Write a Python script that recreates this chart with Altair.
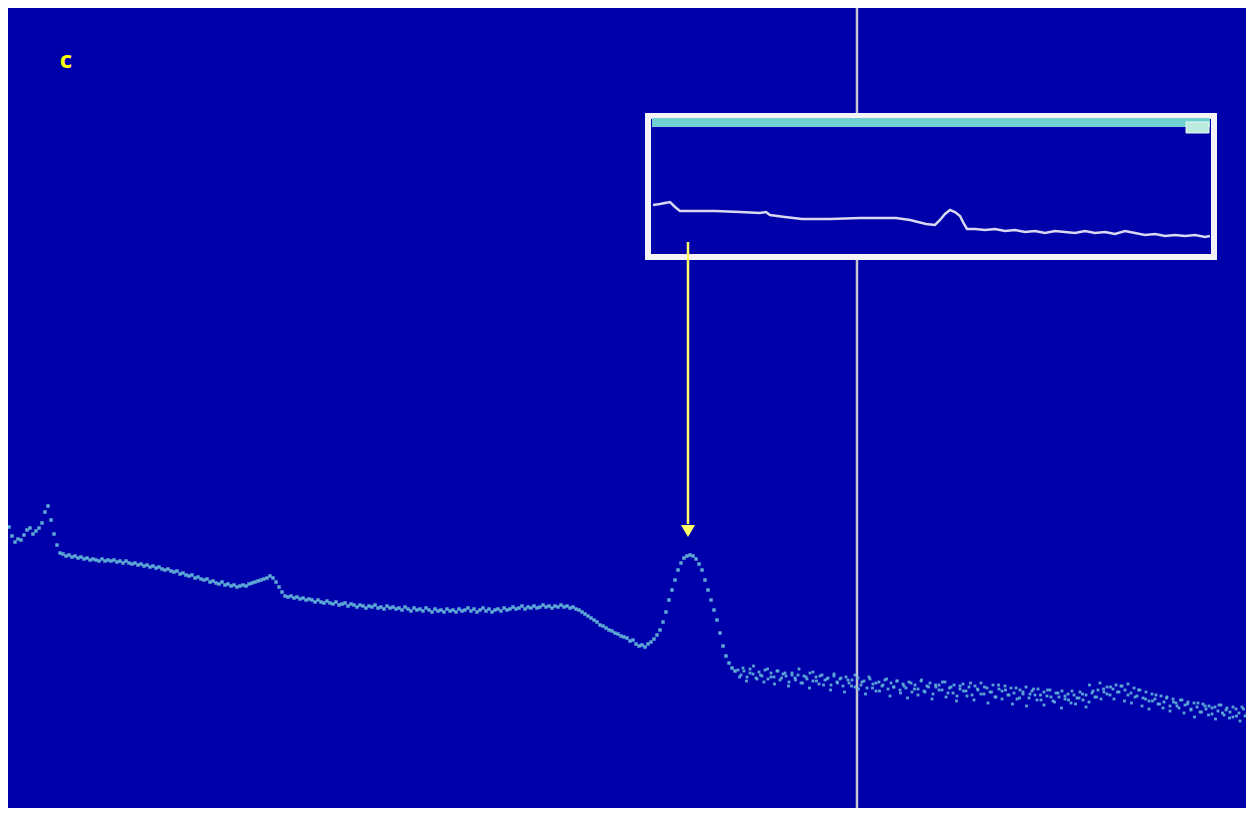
import altair as alt
import pandas as pd

# ---------------- data ----------------
# main spectrum, smooth part: channel grid starts at 0, step 3
smooth_signal = [
    296, 289, 280, 274, 277, 276, 281, 286, 288, 282, 285, 288, 293, 304, 310, 296, 282, 271, 263, 262,
    260, 261, 259, 260, 258, 259, 257, 258, 256, 257, 256, 255, 257, 255, 256, 255, 256, 254, 255, 253,
    255, 253, 252, 253, 251, 252, 250, 251, 249, 250, 248, 249, 247, 246, 247, 245, 244, 245, 242, 243,
    241, 240, 241, 238, 239, 237, 236, 237, 234, 235, 233, 232, 234, 231, 232, 230, 231, 229, 230, 231,
    230, 232, 233, 234, 235, 236, 237, 238, 240, 238, 234, 229, 224, 220, 219, 220, 218, 219, 217, 218,
    216, 217, 216, 214, 216, 214, 213, 215, 213, 212, 214, 211, 212, 213, 210, 212, 211, 209, 211, 210,
    208, 210, 209, 211, 208, 209, 207, 210, 208, 209, 207, 208, 206, 209, 207, 205, 208, 206, 207, 205,
    208, 206, 204, 207, 205, 206, 204, 207, 205, 206, 204, 207, 205, 206, 208, 205, 207, 204, 206, 208,
    205, 207, 204, 206, 207, 205, 208, 206, 207, 209, 207, 208, 210, 207, 209, 208, 210, 208, 209, 211,
    209, 210, 208, 210, 209, 211, 209, 210, 208, 209, 207, 206, 204, 202, 200, 198, 196, 194, 191, 190,
    188, 186, 185, 183, 182, 180, 179, 178, 175, 176, 172, 170, 171, 169, 172, 174, 177, 181, 186, 194,
    204, 216, 226, 236, 246, 253, 258, 260, 261, 260, 257, 252, 246, 236, 226, 216, 206, 196, 183, 170,
    160, 153, 148, 145,
]
# noisy tail, first scatter set: channel 732 onward, step 3
tail_a = [
    146, 141, 145, 139, 147, 142, 138, 144, 140, 146, 137, 143, 139, 145, 136, 142, 140, 134, 143, 138,
    141, 133, 140, 137, 143, 135, 139, 132, 141, 136, 138, 131, 140, 134, 137, 130, 139, 133, 136, 129,
    138, 131, 135, 128, 137, 132, 125, 134, 130, 136, 127, 133, 129, 135, 126, 132, 128, 134, 124, 131,
    127, 135, 125, 130, 133, 122, 129, 131, 126, 134, 123, 129, 131, 120, 127, 132, 125, 129, 121, 130,
    126, 133, 122, 128, 124, 131, 119, 127, 125, 130, 121, 128, 123, 117, 126, 122, 129, 118, 125, 121,
    127, 116, 124, 120, 126, 115, 123, 119, 125, 117, 122, 113, 121, 118, 124, 116, 121, 114, 123, 119,
    126, 117, 124, 129, 121, 127, 131, 124, 130, 126, 132, 123, 128, 120, 126, 118, 124, 115, 122, 117,
    112, 120, 114, 119, 110, 117, 113, 108, 116, 111, 114, 106, 113, 109, 104, 112, 107, 110, 102, 109,
    105, 111, 101, 108, 104, 99, 107, 103, 109, 100, 106, 102, 108,
]
# noisy tail, second scatter set: channel 733.5 onward, step 3.5
tail_b = [
    139, 148, 135, 143, 150, 137, 141, 134, 147, 139, 132, 145, 138, 143, 130, 141, 136, 147, 133, 139,
    128, 144, 135, 140, 131, 137, 126, 142, 133, 138, 124, 136, 130, 141, 127, 134, 122, 139, 128, 133,
    125, 131, 137, 120, 129, 135, 123, 130, 118, 133, 127, 121, 136, 124, 129, 117, 131, 126, 134, 119,
    128, 123, 115, 130, 125, 120, 133, 116, 127, 122, 129, 113, 124, 119, 131, 117, 126, 121, 112, 128,
    118, 124, 110, 122, 127, 116, 121, 111, 126, 119, 114, 123, 108, 120, 116, 125, 112, 118, 122, 109,
    131, 125, 119, 133, 127, 122, 129, 117, 124, 130, 115, 121, 113, 119, 126, 110, 117, 107, 115, 121,
    112, 108, 118, 105, 114, 110, 116, 103, 112, 107, 99, 113, 104, 110, 101, 108, 97, 111, 103, 106,
    98, 109, 100, 95, 107, 102, 98, 105,
]
# inset overview trace
inset_x = [647, 654, 659, 664, 669, 674, 694, 709, 734, 754, 760, 764, 779, 796, 824, 854, 890, 904,
           920, 929, 934, 939, 944, 949, 954, 958, 961, 969, 979, 989, 999, 1009, 1019, 1029, 1039,
           1049, 1059, 1069, 1079, 1089, 1099, 1109, 1119, 1129, 1139, 1149, 1159, 1169, 1179, 1189,
           1199, 1204]
inset_y = [611, 612, 613, 614, 609, 605, 605, 605, 604, 603, 604, 601, 599, 597, 597, 598, 598, 596,
           592, 591, 596, 602, 606, 604, 600, 592, 587, 587, 586, 587, 585, 586, 584, 585, 583, 585,
           584, 583, 585, 583, 584, 582, 585, 583, 581, 582, 580, 581, 580, 581, 579, 580]

panel_label = "c"
marker_channel = 851            # grey vertical cursor
arrow_channel = 682             # yellow arrow
arrow_from, arrow_to = 574, 292
head_at = 285
inset_box = dict(x=642, x2=1208, y=700, y2=559)
inset_bar = dict(x=646, x2=1204, y=698, y2=689)
inset_tag = dict(x=1180, x2=1203, y=694, y2=683)
label_pos = dict(x=60, y=755)

BG = "#0000AA"
DOT = "#63B3D8"

# ---------------- tables ----------------
smooth_df = pd.DataFrame({"ch": [3 * i for i in range(len(smooth_signal))], "s": smooth_signal})
ta_df = pd.DataFrame({"ch": [732 + 3 * i for i in range(len(tail_a))], "s": tail_a})
tb_df = pd.DataFrame({"ch": [733.5 + 3.5 * i for i in range(len(tail_b))], "s": tail_b})
inset_df = pd.DataFrame({"ch": inset_x, "s": inset_y})

xs = alt.Scale(domain=[2, 1240], nice=False, zero=False)
ys = alt.Scale(domain=[8, 808], nice=False, zero=False)


def X(f="ch"):
    return alt.X(f"{f}:Q", scale=xs, axis=None)


def Y(f="s"):
    return alt.Y(f"{f}:Q", scale=ys, axis=None)


vline = alt.Chart(pd.DataFrame({"ch": [marker_channel]})).mark_rule(
    color="#C6C6CC", strokeWidth=2.5).encode(x=X())

dots_smooth = alt.Chart(smooth_df).mark_square(size=12, color=DOT, opacity=0.95, clip=True).encode(x=X(), y=Y())
dots_a = alt.Chart(ta_df).mark_square(size=8, color=DOT, opacity=0.9, clip=True).encode(x=X(), y=Y())
dots_b = alt.Chart(tb_df).mark_square(size=8, color=DOT, opacity=0.9, clip=True).encode(x=X(), y=Y())

box = alt.Chart(pd.DataFrame([inset_box])).mark_rect(fill=BG, stroke="#F4F4F8", strokeWidth=6).encode(
    x=X("x"), x2="x2", y=Y("y"), y2="y2")
bar = alt.Chart(pd.DataFrame([inset_bar])).mark_rect(fill="#70CFD0").encode(
    x=X("x"), x2="x2", y=Y("y"), y2="y2")
tag = alt.Chart(pd.DataFrame([inset_tag])).mark_rect(fill="#BDEBE0", stroke="#E8F8F4", strokeWidth=1).encode(
    x=X("x"), x2="x2", y=Y("y"), y2="y2")
inset_line = alt.Chart(inset_df).mark_line(color="#D8D8F0", strokeWidth=2.5).encode(x=X(), y=Y())

arrow_df = pd.DataFrame({"ch": [arrow_channel], "a": [arrow_from], "b": [arrow_to], "h": [head_at]})
arrow = alt.Chart(arrow_df).mark_rule(color="#FFFF66", strokeWidth=2.5).encode(x=X(), y=Y("a"), y2="b")
head = alt.Chart(arrow_df).mark_point(shape="triangle-down", size=200, filled=True,
                                      color="#FFFF66", opacity=1).encode(x=X(), y=Y("h"))

label = alt.Chart(pd.DataFrame({"ch": [label_pos["x"]], "s": [label_pos["y"]], "t": [panel_label]})).mark_text(
    color="#FFFF00", fontSize=24, fontWeight="bold", font="Open Sans").encode(x=X(), y=Y(), text="t:N")

chart = alt.layer(
    vline, dots_smooth, dots_a, dots_b, box, bar, tag, inset_line, arrow, head, label
).properties(
    width=1238, height=800, padding=0, autosize=alt.AutoSizeParams(type="none"),
    background="white"
).configure_view(fill=BG, strokeWidth=0)

chart.save("out.html", embed_options={"renderer": "svg", "actions": False})
